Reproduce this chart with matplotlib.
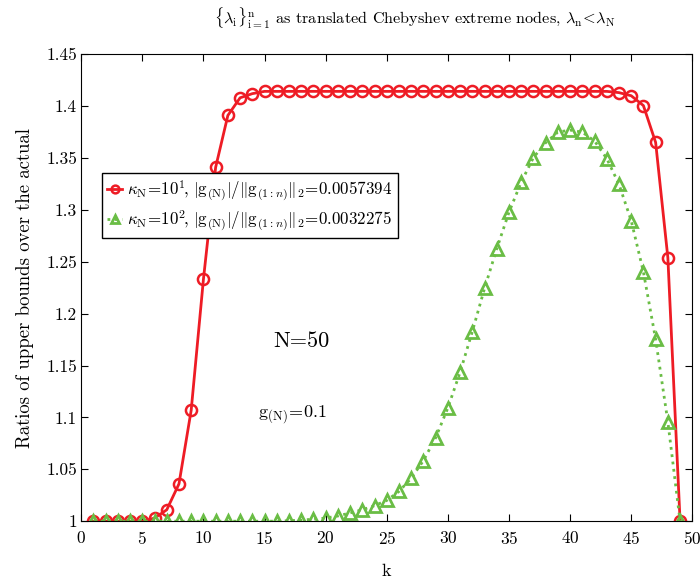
import numpy as np
import matplotlib
matplotlib.use("Agg")
import matplotlib.pyplot as plt
from matplotlib.ticker import FormatStrFormatter

plt.rcParams['font.family'] = ['cmr10', 'DejaVu Serif']
plt.rcParams['mathtext.fontset'] = 'cm'
plt.rcParams['axes.formatter.use_mathtext'] = True

# data
k = np.arange(1, 50)
ratio_kappa10 = [1.0, 1.0, 1.0, 1.0, 1.0, 1.003, 1.011, 1.036, 1.107, 1.233,
                 1.341, 1.391, 1.408, 1.412, 1.4142, 1.4142, 1.4142, 1.4142, 1.4142, 1.4142,
                 1.4142, 1.4142, 1.4142, 1.4142, 1.4142, 1.4142, 1.4142, 1.4142, 1.4142, 1.4142,
                 1.4142, 1.4142, 1.4142, 1.4142, 1.4142, 1.4142, 1.4142, 1.4142, 1.4142, 1.4142,
                 1.4142, 1.4142, 1.4142, 1.413, 1.410, 1.4005, 1.365, 1.254, 1.0]
ratio_kappa100 = [1.0, 1.0, 1.0, 1.0, 1.0, 1.0, 1.0, 1.0, 1.0, 1.0,
                  1.0, 1.0, 1.0, 1.0, 1.0, 1.0, 1.0005, 1.001, 1.002, 1.003,
                  1.005, 1.008, 1.011, 1.015, 1.020, 1.0287, 1.0414, 1.0584, 1.0804, 1.1092,
                  1.1435, 1.1827, 1.2243, 1.2625, 1.2977, 1.3267, 1.3504, 1.3647, 1.3749, 1.3769,
                  1.3749, 1.3664, 1.3495, 1.3247, 1.2897, 1.2402, 1.1754, 1.0958, 1.0]
x_ticks = np.arange(0, 51, 5)
y_ticks = np.arange(1.0, 1.4501, 0.05)

red = '#ee1c25'
green = '#6abd45'

fig = plt.figure(figsize=(7, 5.83), dpi=100)
ax = fig.add_axes([0.116, 0.106, 0.873, 0.801])

ax.plot(k, ratio_kappa10, color=red, lw=2.0, marker='o', ms=8, mfc='none', mew=1.8,
        label=r'$\kappa_\mathrm{N}\!=\!10^1\!,\,|\mathrm{g}_{(\mathrm{N})}|/\|\mathrm{g}_{(1:n)}\|_2\!=\!0.0057394$')
ax.plot(k, ratio_kappa100, color=green, lw=2.0, ls=':', marker='^', ms=8, mfc='none', mew=2.0,
        label=r'$\kappa_\mathrm{N}\!=\!10^2\!,\,|\mathrm{g}_{(\mathrm{N})}|/\|\mathrm{g}_{(1:n)}\|_2\!=\!0.0032275$')

ax.set_xlim(0, 50)
ax.set_ylim(1.0, 1.45)
ax.set_xticks(x_ticks)
ax.set_yticks(y_ticks)
ax.yaxis.set_major_formatter(FormatStrFormatter('%g'))
ax.tick_params(direction='in', top=True, right=True, labelsize=12.5, length=5, pad=6)
ax.tick_params(axis='y', pad=3)

ax.set_xlabel('k', fontsize=13, labelpad=12)
ax.set_ylabel('Ratios of upper bounds over the actual', fontsize=13.5, labelpad=9)
ax.set_title(r'$\{\lambda_\mathrm{i}\}_{\mathrm{i}=1}^{\mathrm{n}}$ as translated Chebyshev extreme nodes, '
             r'$\lambda_\mathrm{n}\!<\!\lambda_\mathrm{N}$', fontsize=11.7, pad=21, x=0.545)

ax.text(18, 1.173, 'N=50', fontsize=16, ha='center', va='center')
ax.text(14.5, 1.1, r'$\mathrm{g}_{(\mathrm{N})}\!=\!0.1$', fontsize=13, ha='left', va='baseline')

leg = ax.legend(loc='upper left', bbox_to_anchor=(0.034, 0.745), fontsize=12.2,
                frameon=True, fancybox=False, edgecolor='black', framealpha=1,
                handlelength=0.9, handletextpad=0.3, borderpad=0.3, labelspacing=0.3,
                borderaxespad=0, markerscale=0.7)
leg.get_frame().set_linewidth(1.0)

fig.savefig('out.png', dpi=100)
